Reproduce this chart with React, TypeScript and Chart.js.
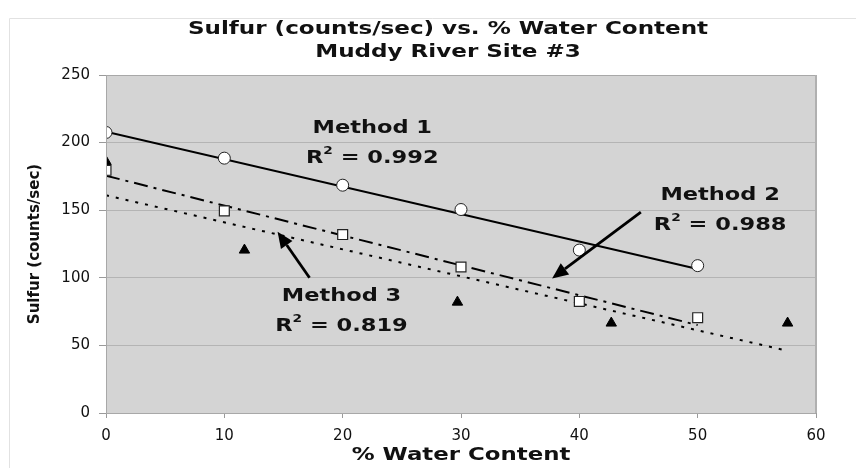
import React, { useEffect, useRef } from "react";
import { Chart, registerables } from "chart.js";

Chart.register(...registerables);

// ---- Data ----
const m1X = [0, 10, 20, 30, 40, 50];
const m1Y = [207.5, 188.5, 168.5, 150.5, 120.5, 109];
const m2X = [0, 10, 20, 30, 40, 50];
const m2Y = [179.5, 149.5, 132, 108, 82.5, 70.5];
const m3X = [0, 11.7, 29.7, 42.7, 57.6];
const m3Y = [186, 120.5, 82, 66.5, 66.5];

// trendline endpoints
const t1X = [0, 50];
const t1Y = [208, 106.5];
const t2X = [0, 50];
const t2Y = [175.5, 65];
const t3X = [0, 57.6];
const t3Y = [161, 46];

const titleLines = ["Sulfur (counts/sec) vs. % Water Content", "Muddy River Site #3"];
const xTitle = "% Water Content";
const yTitle = "Sulfur (counts/sec)";

// annotation labels (data coordinates)
const labels = [
  { x: 22.5, y: 210.5, name: "Method 1", r2: "0.992" },
  { x: 51.9, y: 161, name: "Method 2", r2: "0.988" },
  { x: 19.9, y: 86.5, name: "Method 3", r2: "0.819" },
];
// arrows: from -> to (data coordinates)
const arrows = [
  { x1: 45.2, y1: 148.5, x2: 37.7, y2: 99.5 },
  { x1: 17.2, y1: 100, x2: 14.5, y2: 134 },
];

const FONT = "'DejaVu Sans', Verdana, sans-serif";
const STRETCH = 1.25;

const pts = (xs: number[], ys: number[]) => xs.map((x, i) => ({ x, y: ys[i] }));

function stretchedText(ctx: any, text: string, x: number, y: number, sx: number, align: string) {
  ctx.save();
  ctx.translate(x, y);
  ctx.scale(sx, 1);
  ctx.textAlign = align;
  ctx.fillText(text, 0, 0);
  ctx.restore();
}

const decorPlugin = {
  id: "decor",
  beforeDraw(chart: any) {
    const { ctx, chartArea } = chart;
    ctx.save();
    ctx.fillStyle = "#ffffff";
    ctx.fillRect(0, 0, chart.width, chart.height);
    // outer frame
    ctx.strokeStyle = "#e2e2e2";
    ctx.lineWidth = 1;
    ctx.beginPath();
    ctx.moveTo(9.5, chart.height);
    ctx.lineTo(9.5, 18.5);
    ctx.lineTo(chart.width, 18.5);
    ctx.stroke();
    // plot background
    ctx.fillStyle = "#d4d4d4";
    ctx.fillRect(chartArea.left, chartArea.top, chartArea.right - chartArea.left, chartArea.bottom - chartArea.top);
    ctx.restore();
  },
  afterDatasetsDraw(chart: any) {
    const { ctx, chartArea } = chart;
    const xs = chart.scales.x;
    const ys = chart.scales.y;
    ctx.save();
    // plot border
    ctx.strokeStyle = "#a8a8a8";
    ctx.lineWidth = 1;
    ctx.strokeRect(chartArea.left + 0.5, chartArea.top + 0.5, chartArea.right - chartArea.left - 1, chartArea.bottom - chartArea.top);
    ctx.strokeStyle = "#b0b0b0";
    ctx.lineWidth = 2;
    ctx.beginPath();
    ctx.moveTo(chartArea.right, chartArea.top);
    ctx.lineTo(chartArea.right, chartArea.bottom);
    ctx.stroke();
    // title
    ctx.fillStyle = "#111";
    ctx.textBaseline = "middle";
    ctx.font = `bold 18px ${FONT}`;
    stretchedText(ctx, titleLines[0], 448, 29, 1.28, "center");
    stretchedText(ctx, titleLines[1], 448, 52, 1.28, "center");
    // x-axis title
    ctx.font = `bold 18px ${FONT}`;
    stretchedText(ctx, xTitle, (chartArea.left + chartArea.right) / 2, 455, 1.27, "center");
    // labels
    for (const l of labels) {
      const cx = xs.getPixelForValue(l.x);
      const cy = ys.getPixelForValue(l.y);
      ctx.font = `bold 18px ${FONT}`;
      stretchedText(ctx, l.name, cx, cy, STRETCH, "center");
      const r2y = cy + 30;
      const a = "R";
      const b = " = " + l.r2;
      ctx.font = `bold 18px ${FONT}`;
      const wa = ctx.measureText(a).width * STRETCH;
      const wb = ctx.measureText(b).width * STRETCH;
      ctx.font = `bold 11px ${FONT}`;
      const ws = ctx.measureText("2").width * STRETCH;
      const total = wa + ws + wb;
      const sx = cx - total / 2;
      ctx.font = `bold 18px ${FONT}`;
      stretchedText(ctx, a, sx, r2y, STRETCH, "left");
      ctx.font = `bold 11px ${FONT}`;
      stretchedText(ctx, "2", sx + wa, r2y - 7, STRETCH, "left");
      ctx.font = `bold 18px ${FONT}`;
      stretchedText(ctx, b, sx + wa + ws, r2y, STRETCH, "left");
    }
    // arrows
    ctx.strokeStyle = "#000";
    ctx.fillStyle = "#000";
    ctx.lineWidth = 2.8;
    for (const a of arrows) {
      const x1 = xs.getPixelForValue(a.x1);
      const y1 = ys.getPixelForValue(a.y1);
      const x2 = xs.getPixelForValue(a.x2);
      const y2 = ys.getPixelForValue(a.y2);
      const ang = Math.atan2(y2 - y1, x2 - x1);
      const hl = 16;
      const hw = 7;
      const bx = x2 - hl * Math.cos(ang);
      const by = y2 - hl * Math.sin(ang);
      ctx.beginPath();
      ctx.moveTo(x1, y1);
      ctx.lineTo(bx, by);
      ctx.stroke();
      ctx.beginPath();
      ctx.moveTo(x2, y2);
      ctx.lineTo(bx + hw * Math.sin(ang), by - hw * Math.cos(ang));
      ctx.lineTo(bx - hw * Math.sin(ang), by + hw * Math.cos(ang));
      ctx.closePath();
      ctx.fill();
    }
    ctx.restore();
  },
};

export default function App() {
  const ref = useRef<HTMLCanvasElement | null>(null);
  useEffect(() => {
    document.body.style.margin = "0";
    const canvas = ref.current;
    if (!canvas) return;
    const chart = new Chart(canvas, {
      type: "scatter",
      data: {
        datasets: [
          {
            label: "Method 1",
            data: pts(m1X, m1Y),
            pointStyle: "circle",
            pointRadius: 6,
            backgroundColor: "#ffffff",
            borderColor: "#222",
            borderWidth: 1,
            order: 0,
          },
          {
            label: "Method 2",
            data: pts(m2X, m2Y),
            pointStyle: "rect",
            pointRadius: 7,
            backgroundColor: "#ffffff",
            borderColor: "#222",
            borderWidth: 1.2,
            order: 0,
          },
          {
            label: "Method 3",
            data: pts(m3X, m3Y),
            pointStyle: "triangle",
            pointRadius: 6,
            backgroundColor: "#000",
            borderColor: "#000",
            borderWidth: 1,
            order: 0,
          },
          {
            type: "line",
            label: "Trend 1",
            data: pts(t1X, t1Y),
            showLine: true,
            borderColor: "#000",
            borderWidth: 2,
            pointRadius: 0,
            fill: false,
            order: 1,
          },
          {
            type: "line",
            label: "Trend 2",
            data: pts(t2X, t2Y),
            showLine: true,
            borderColor: "#000",
            borderWidth: 2,
            borderDash: [14, 6, 3, 6],
            pointRadius: 0,
            fill: false,
            order: 1,
          },
          {
            type: "line",
            label: "Trend 3",
            data: pts(t3X, t3Y),
            showLine: true,
            borderColor: "#000",
            borderWidth: 2,
            borderDash: [3, 7],
            pointRadius: 0,
            fill: false,
            order: 1,
          },
        ] as any,
      },
      options: {
        animation: false,
        responsive: false,
        layout: { padding: { left: 0, top: 75, right: 40, bottom: 0 } },
        plugins: {
          legend: { display: false },
          tooltip: { enabled: false },
          title: { display: false },
        },
        scales: {
          x: {
            type: "linear",
            min: 0,
            max: 60,
            ticks: {
              stepSize: 10,
              color: "#111",
              font: { family: FONT, size: 15 },
              padding: 9,
            },
            grid: {
              display: true,
              drawOnChartArea: false,
              drawTicks: true,
              tickLength: 5,
              color: "#9a9a9a",
            },
            border: { display: false },
            title: { display: false },
            afterFit(scale: any) {
              scale.height = 55;
            },
          },
          y: {
            type: "linear",
            min: 0,
            max: 250,
            ticks: {
              stepSize: 50,
              color: "#111",
              font: { family: FONT, size: 15 },
              padding: 9,
            },
            grid: {
              color: "#b4b4b4",
              tickColor: "#9a9a9a",
              tickLength: 7,
              lineWidth: 1,
            },
            border: { display: false },
            title: {
              display: true,
              text: yTitle,
              color: "#111",
              font: { family: FONT, size: 15, weight: "bold" },
              padding: { top: 26, bottom: 0 },
            },
            afterFit(scale: any) {
              scale.width = 106;
            },
          },
        },
      } as any,
      plugins: [decorPlugin],
    });
    return () => chart.destroy();
  }, []);
  return (
    <div style={{ width: 856, height: 468 }}>
      <canvas ref={ref} width={856} height={468} style={{ display: "block" }} />
    </div>
  );
}
